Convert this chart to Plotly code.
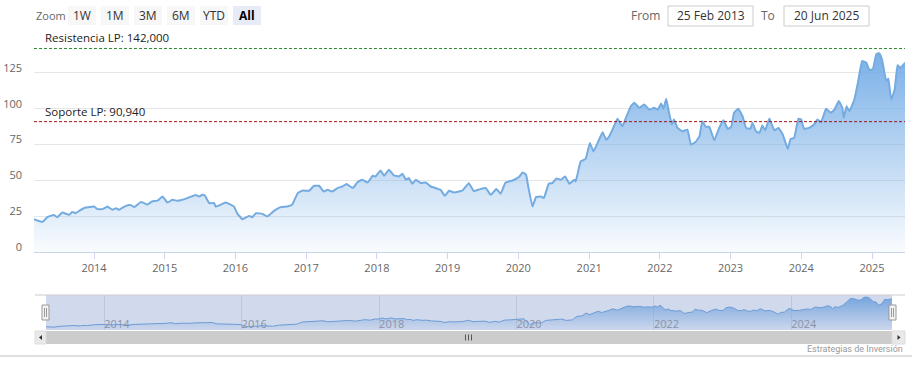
import plotly.graph_objects as go
import pandas as pd

# ---------------- data ----------------
t_years = [
    2013.15, 2013.27, 2013.34, 2013.43, 2013.48, 2013.55, 2013.65, 2013.69, 2013.74, 2013.79,
    2013.88, 2014.00, 2014.05, 2014.12, 2014.19, 2014.26, 2014.31, 2014.35, 2014.45, 2014.52,
    2014.57, 2014.66, 2014.71, 2014.75, 2014.82, 2014.90, 2014.97, 2015.04, 2015.11, 2015.18,
    2015.25, 2015.34, 2015.44, 2015.49, 2015.53, 2015.57, 2015.63, 2015.70, 2015.72, 2015.79,
    2015.86, 2015.91, 2015.98, 2016.03, 2016.10, 2016.19, 2016.24, 2016.29, 2016.38, 2016.45,
    2016.55, 2016.64, 2016.73, 2016.80, 2016.88, 2016.95, 2017.04, 2017.11, 2017.18, 2017.25,
    2017.30, 2017.37, 2017.44, 2017.51, 2017.57, 2017.66, 2017.72, 2017.79, 2017.87, 2017.94,
    2017.98, 2018.05, 2018.10, 2018.17, 2018.24, 2018.31, 2018.36, 2018.41, 2018.45, 2018.50,
    2018.55, 2018.62, 2018.69, 2018.76, 2018.83, 2018.90, 2018.96, 2019.02, 2019.09, 2019.16,
    2019.21, 2019.30, 2019.37, 2019.45, 2019.54, 2019.61, 2019.69, 2019.75, 2019.82, 2019.92,
    2020.01, 2020.06, 2020.11, 2020.14, 2020.20, 2020.25, 2020.32, 2020.36, 2020.43, 2020.48,
    2020.54, 2020.60, 2020.66, 2020.72, 2020.79, 2020.81, 2020.88, 2020.95, 2021.01, 2021.06,
    2021.12, 2021.19, 2021.24, 2021.28, 2021.33, 2021.40, 2021.47, 2021.52, 2021.59, 2021.64,
    2021.71, 2021.78, 2021.85, 2021.92, 2021.97, 2022.02, 2022.05, 2022.09, 2022.13, 2022.17,
    2022.20, 2022.25, 2022.32, 2022.39, 2022.44, 2022.50, 2022.56, 2022.60, 2022.65, 2022.70,
    2022.77, 2022.84, 2022.90, 2022.96, 2023.01, 2023.05, 2023.11, 2023.17, 2023.22, 2023.28,
    2023.31, 2023.36, 2023.41, 2023.45, 2023.49, 2023.55, 2023.62, 2023.68, 2023.74, 2023.81,
    2023.85, 2023.90, 2023.96, 2024.00, 2024.04, 2024.11, 2024.18, 2024.23, 2024.28, 2024.35,
    2024.42, 2024.47, 2024.53, 2024.58, 2024.60, 2024.64, 2024.68, 2024.75, 2024.80, 2024.86,
    2024.92, 2024.96, 2025.01, 2025.06, 2025.10, 2025.14, 2025.20, 2025.23, 2025.27, 2025.32,
    2025.36, 2025.40, 2025.47,
]
price = [
    22.9, 21.0, 24.3, 25.9, 24.3, 27.5, 25.9, 28.0, 27.1, 28.7,
    31.0, 31.7, 29.9, 29.9, 31.7, 29.4, 30.6, 29.4, 32.2, 32.7,
    31.3, 34.8, 34.1, 33.1, 35.2, 35.9, 38.7, 34.5, 36.4, 35.7,
    36.4, 38.0, 39.7, 38.7, 39.9, 39.2, 34.1, 34.1, 31.7, 32.9,
    34.5, 33.6, 31.7, 26.6, 22.9, 25.2, 24.3, 27.1, 26.6, 24.7,
    28.9, 31.3, 31.7, 32.9, 41.1, 42.9, 42.7, 46.2, 46.2, 42.2,
    43.4, 42.2, 44.6, 45.7, 47.4, 44.6, 48.5, 50.4, 48.5, 53.2,
    52.7, 56.9, 53.2, 57.4, 53.4, 52.7, 54.6, 50.4, 51.6, 47.6,
    50.4, 48.1, 48.5, 45.7, 44.6, 43.4, 39.2, 42.7, 41.5, 42.2,
    42.9, 48.0, 42.5, 43.7, 44.6, 39.9, 43.9, 40.6, 48.5, 49.9,
    52.3, 55.5, 53.9, 45.7, 31.7, 38.3, 38.7, 37.6, 47.6, 48.1,
    51.3, 50.4, 52.7, 47.6, 50.4, 49.2, 63.2, 64.9, 76.1, 70.2,
    76.1, 83.5, 78.4, 80.3, 85.4, 92.9, 87.7, 93.6, 101.7, 104.1,
    100.6, 102.9, 99.4, 100.6, 99.4, 103.6, 99.9, 106.9, 97.1, 88.9,
    92.4, 86.6, 84.2, 85.4, 74.9, 76.5, 80.7, 91.2, 87.3, 87.3,
    77.9, 86.6, 91.9, 85.9, 87.3, 97.1, 99.9, 94.7, 86.6, 85.9,
    90.1, 84.2, 83.1, 88.2, 84.9, 93.1, 84.9, 86.6, 81.9, 71.9,
    78.9, 79.6, 92.9, 92.4, 85.9, 86.6, 88.9, 92.4, 90.5, 99.9,
    97.1, 99.4, 105.3, 100.6, 93.6, 101.7, 98.2, 106.4, 118.1, 133.3,
    132.1, 127.0, 127.5, 138.0, 138.7, 134.5, 119.3, 120.9, 106.4, 113.4,
    130.3, 128.6, 132.1,
]
resistencia = 142.0
soporte = 90.94
y_ticks = [0, 25, 50, 75, 100, 125, 150]
y_labels = ["0", "25", "50", "75", "100", "125", ""]
year_ticks = list(range(2014, 2026))
nav_year_ticks = [2014, 2016, 2018, 2020, 2022, 2024]
zoom_buttons = ["1W", "1M", "3M", "6M", "YTD", "All"]
date_from = "25 Feb 2013"
date_to = "20 Jun 2025"
x_start, x_end = "2013-02-25", "2025-06-20"


def to_date(y):
    yi = int(y)
    start = pd.Timestamp(year=yi, month=1, day=1)
    end = pd.Timestamp(year=yi + 1, month=1, day=1)
    return start + (end - start) * (y - yi)


dates = [to_date(v) for v in t_years]

W, H = 912, 375
FONT = "Open Sans"


def X(px):
    return px / W


def Y(py):
    return 1 - py / H


fig = go.Figure()

grad = dict(type="vertical",
            colorscale=[[0, "rgba(116,172,230,0.04)"], [1, "rgba(116,172,230,1.0)"]],
            start=0, stop=145)
fig.add_trace(go.Scatter(
    x=dates, y=price, mode="lines", fill="tozeroy",
    line=dict(color="#74abe0", width=2, shape="spline", smoothing=0.3),
    fillgradient=grad, hoverinfo="skip", showlegend=False,
    xaxis="x", yaxis="y"))

nav_grad = dict(type="vertical",
                colorscale=[[0, "rgba(118,175,232,0.05)"], [1, "rgba(118,175,232,1.0)"]],
                start=10, stop=147)
fig.add_trace(go.Scatter(
    x=dates, y=price, mode="lines", fill="tozeroy",
    line=dict(color="#6fa6dc", width=1),
    fillgradient=nav_grad, hoverinfo="skip", showlegend=False,
    xaxis="x2", yaxis="y2"))

shapes = []
annotations = []

# support / resistance lines
shapes.append(dict(type="line", xref="x domain", yref="y", x0=0, x1=1,
                   y0=resistencia, y1=resistencia,
                   line=dict(color="#2e8b2e", width=1, dash="3px,2px"), layer="above"))
shapes.append(dict(type="line", xref="x domain", yref="y", x0=0, x1=1,
                   y0=soporte, y1=soporte,
                   line=dict(color="#a31515", width=1, dash="3px,2px"), layer="above"))
annotations.append(dict(xref="paper", yref="y", x=X(43), y=resistencia, yshift=1,
                        xanchor="left", yanchor="bottom", showarrow=False,
                        text="Resistencia LP: 142,000",
                        font=dict(family=FONT, size=11.5, color="#222")))
annotations.append(dict(xref="paper", yref="y", x=X(43), y=soporte, yshift=1,
                        xanchor="left", yanchor="bottom", showarrow=False,
                        text="Soporte LP: 90,940",
                        font=dict(family=FONT, size=11.5, color="#222")))

# range selector
annotations.append(dict(xref="paper", yref="paper", x=X(34), y=Y(15.5), xanchor="left",
                        yanchor="middle", showarrow=False, text="Zoom",
                        font=dict(family=FONT, size=11, color="#666")))
bx = 68
for i, b in enumerate(zoom_buttons):
    x0 = bx + i * 33
    sel = (b == "All")
    shapes.append(dict(type="rect", xref="paper", yref="paper", x0=X(x0), x1=X(x0 + 28),
                       y0=Y(25), y1=Y(6), fillcolor="#e6ebf5" if sel else "#f7f7f7",
                       line=dict(width=0), layer="above"))
    annotations.append(dict(xref="paper", yref="paper", x=X(x0 + 14), y=Y(15.5),
                            xanchor="center", yanchor="middle", showarrow=False,
                            text="<b>%s</b>" % b if sel else b,
                            font=dict(family=FONT, size=12, color="#000" if sel else "#333")))

# date inputs
annotations.append(dict(xref="paper", yref="paper", x=X(662), y=Y(15.5), xanchor="right",
                        yanchor="middle", showarrow=False, text="From",
                        font=dict(family=FONT, size=12, color="#666")))
annotations.append(dict(xref="paper", yref="paper", x=X(777), y=Y(15.5), xanchor="right",
                        yanchor="middle", showarrow=False, text="To",
                        font=dict(family=FONT, size=12, color="#666")))
for (x0, x1, txt) in [(668, 753, date_from), (784, 869, date_to)]:
    shapes.append(dict(type="rect", xref="paper", yref="paper", x0=X(x0), x1=X(x1),
                       y0=Y(26), y1=Y(6), fillcolor="white",
                       line=dict(color="#cccccc", width=1), layer="above"))
    annotations.append(dict(xref="paper", yref="paper", x=X((x0 + x1) / 2), y=Y(15.5),
                            xanchor="center", yanchor="middle", showarrow=False, text=txt,
                            font=dict(family=FONT, size=12, color="#333")))

# navigator mask, outline, handles
shapes.append(dict(type="rect", xref="paper", yref="paper", x0=X(46), x1=X(892),
                   y0=Y(330), y1=Y(295), fillcolor="rgba(102,133,194,0.3)",
                   line=dict(width=0), layer="above"))
shapes.append(dict(type="line", xref="paper", yref="paper", x0=X(35), x1=X(905),
                   y0=Y(295), y1=Y(295), line=dict(color="#cccccc", width=1), layer="above"))
for hx in [45.5, 892.5]:
    shapes.append(dict(type="rect", xref="paper", yref="paper", x0=X(hx - 3.5), x1=X(hx + 3.5),
                       y0=Y(320), y1=Y(305), fillcolor="#f2f2f2",
                       line=dict(color="#999999", width=1), layer="above"))
    for lx in [hx - 1, hx + 1]:
        shapes.append(dict(type="line", xref="paper", yref="paper", x0=X(lx), x1=X(lx),
                           y0=Y(317), y1=Y(308), line=dict(color="#999999", width=1),
                           layer="above"))

# scrollbar
shapes.append(dict(type="rect", xref="paper", yref="paper", x0=X(35), x1=X(905),
                   y0=Y(344), y1=Y(331), fillcolor="#f2f2f2", line=dict(width=0), layer="above"))
shapes.append(dict(type="rect", xref="paper", yref="paper", x0=X(46), x1=X(892),
                   y0=Y(344), y1=Y(331), fillcolor="#cccccc", line=dict(width=0), layer="above"))
for (b0, b1) in [(35, 46), (892, 905)]:
    shapes.append(dict(type="rect", xref="paper", yref="paper", x0=X(b0), x1=X(b1),
                       y0=Y(344), y1=Y(331), fillcolor="#e9e9e9",
                       line=dict(color="#dddddd", width=1), layer="above"))
shapes.append(dict(type="path", xref="paper", yref="paper",
                   path="M %f %f L %f %f L %f %f Z" % (X(42), Y(335), X(39), Y(337.5), X(42), Y(340)),
                   fillcolor="#333333", line=dict(width=0), layer="above"))
shapes.append(dict(type="path", xref="paper", yref="paper",
                   path="M %f %f L %f %f L %f %f Z" % (X(897.5), Y(335), X(900.5), Y(337.5), X(897.5), Y(340)),
                   fillcolor="#333333", line=dict(width=0), layer="above"))
for rx in [465.5, 468.5, 471.5]:
    shapes.append(dict(type="line", xref="paper", yref="paper", x0=X(rx), x1=X(rx),
                       y0=Y(334.5), y1=Y(340.5), line=dict(color="#555555", width=1),
                       layer="above"))

# bottom border and credit
shapes.append(dict(type="line", xref="paper", yref="paper", x0=0, x1=1, y0=Y(356), y1=Y(356),
                   line=dict(color="#d6d6d6", width=1.5)))
annotations.append(dict(xref="paper", yref="paper", x=X(905), y=Y(349), xanchor="right",
                        yanchor="middle", showarrow=False, text="Estrategias de Inversión",
                        font=dict(family="Roboto", size=9, color="#999")))

fig.update_layout(
    width=W, height=H, autosize=False,
    margin=dict(l=0, r=0, t=0, b=0, pad=0, autoexpand=False),
    paper_bgcolor="white", plot_bgcolor="white",
    showlegend=False, hovermode=False,
    shapes=shapes, annotations=annotations,
    xaxis=dict(domain=[X(34), X(905)], range=[x_start, x_end], type="date",
               showgrid=False, zeroline=False, showline=True, linecolor="#ccd6eb",
               ticks="outside", ticklen=6, tickcolor="#ccd6eb", automargin=False,
               tickvals=["%d-01-01" % yv for yv in year_ticks],
               ticktext=[str(yv) for yv in year_ticks],
               tickfont=dict(family=FONT, size=11, color="#666"), fixedrange=True),
    yaxis=dict(domain=[Y(252), Y(37)], range=[0, 150], tickvals=y_ticks, ticktext=y_labels,
               showgrid=True, gridcolor="#e6e6e6", zeroline=False, showline=False,
               ticks="", ticklabelstandoff=11, ticklabelshift=-5, automargin=False,
               tickfont=dict(family=FONT, size=11, color="#666"), fixedrange=True),
    xaxis2=dict(domain=[X(46), X(892)], range=[x_start, x_end], type="date",
                anchor="free", position=Y(316),
                showgrid=True, gridcolor="#e6e6e6", zeroline=False, showline=False, ticks="",
                tickvals=["%d-01-01" % yv for yv in nav_year_ticks],
                ticktext=[str(yv) for yv in nav_year_ticks],
                ticklabelposition="outside right", automargin=False,
                tickfont=dict(family=FONT, size=11, color="#999"), fixedrange=True),
    yaxis2=dict(domain=[Y(330), Y(295)], range=[10, 147], anchor="x2", visible=False,
                showgrid=False, fixedrange=True, automargin=False),
)

fig.write_html("out.html", config={"displayModeBar": False},
               post_script="document.body.style.margin='0';document.body.style.padding='0';")
